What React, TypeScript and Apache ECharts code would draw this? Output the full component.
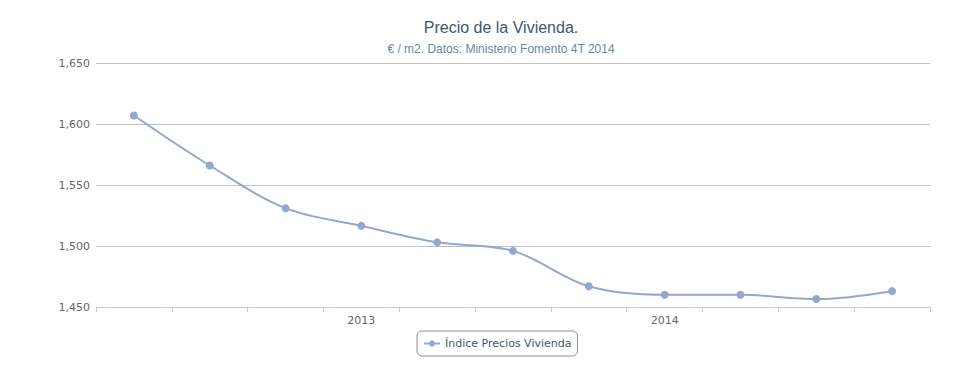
import React, { useEffect, useRef } from "react";
import * as echarts from "echarts";

const categories = ["2T 2012", "3T 2012", "4T 2012", "2013", "2T 2013", "3T 2013", "4T 2013", "2014", "2T 2014", "3T 2014", "4T 2014"];
const shownLabels = ["", "", "", "2013", "", "", "", "2014", "", "", ""];
const values = [1607, 1566, 1531, 1516.5, 1503, 1496, 1467, 1460, 1460, 1456.5, 1463];
const yTicks = { min: 1450, max: 1650, interval: 50 };

export default function App() {
  const ref = useRef<HTMLDivElement>(null);
  useEffect(() => {
    if (!ref.current) return;
    const chart = echarts.init(ref.current, undefined, { renderer: "svg" });
    chart.setOption({
      animation: false,
      backgroundColor: "#ffffff",
      title: [
        {
          text: "Precio de la Vivienda.",
          left: 496,
          top: 14,
          textAlign: "center",
          textStyle: { fontFamily: "Liberation Sans, Arial, sans-serif", fontSize: 16, fontWeight: "normal", color: "#3E576F" },
        },
        {
          text: "€ / m2. Datos: Ministerio Fomento 4T 2014",
          left: 496,
          top: 38,
          textAlign: "center",
          textStyle: { fontFamily: "Liberation Sans, Arial, sans-serif", fontSize: 12, fontWeight: "normal", color: "#6D869F" },
        },
      ],
      legend: {
        data: ["Índice Precios Vivienda"],
        left: 417,
        top: 331,
        itemWidth: 16,
        itemHeight: 8,
        itemGap: 5,
        padding: [7, 6, 7, 6],
        borderColor: "#909090",
        borderWidth: 1,
        borderRadius: 5,
        textStyle: { fontFamily: "DejaVu Sans, Verdana, sans-serif", fontSize: 11, color: "#3E576F" },
      },
      grid: { left: 96, right: 45, top: 63, bottom: 83, containLabel: false },
      xAxis: {
        type: "category",
        data: categories,
        boundaryGap: true,
        axisLine: { show: true, lineStyle: { color: "#C0D0E0", width: 1 } },
        axisTick: { show: true, alignWithLabel: false, interval: 0, length: 5, lineStyle: { color: "#C0D0E0" } },
        axisLabel: {
          interval: 0,
          margin: 8,
          color: "#666666",
          fontFamily: "DejaVu Sans, Verdana, sans-serif",
          fontSize: 11,
          formatter: (_v: string, i: number) => shownLabels[i],
        },
        splitLine: { show: false },
      },
      yAxis: {
        type: "value",
        min: yTicks.min,
        max: yTicks.max,
        interval: yTicks.interval,
        axisLine: { show: false },
        axisTick: { show: false },
        axisLabel: {
          margin: 6,
          color: "#666666",
          fontFamily: "DejaVu Sans, Verdana, sans-serif",
          fontSize: 11,
          formatter: (v: number) => v.toLocaleString("en-US"),
        },
        splitLine: { lineStyle: { color: "#C0C0C0", width: 1 } },
      },
      series: [
        {
          name: "Índice Precios Vivienda",
          type: "line",
          data: values,
          smooth: 0.35,
          symbol: "circle",
          symbolSize: 8,
          itemStyle: { color: "#92A8CD" },
          lineStyle: { color: "#92A8CD", width: 2 },
        },
      ],
    });
    return () => chart.dispose();
  }, []);
  return <div ref={ref} style={{ width: 975, height: 390, margin: -8 }} />;
}
